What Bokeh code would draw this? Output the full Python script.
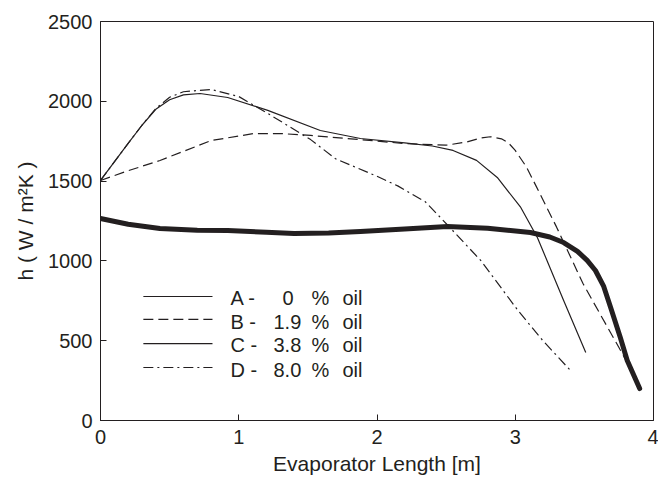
from bokeh.plotting import figure
from bokeh.models import Range1d, FixedTicker, Label
from bokeh.embed import file_html
from bokeh.resources import INLINE

# ---- data ----
xa = [0, 0.2, 0.43, 0.7, 0.92, 1.2, 1.40, 1.65, 1.88, 2.2, 2.51, 2.8, 3.11, 3.25, 3.35, 3.45, 3.52, 3.58, 3.64, 3.69, 3.76, 3.81, 3.90]
ya = [1266, 1230, 1203, 1192, 1190, 1180, 1172, 1175, 1184, 1200, 1216, 1205, 1178, 1150, 1115, 1060, 1003, 940, 840, 708, 520, 376, 200]

xb = [0, 0.2, 0.43, 0.8, 1.11, 1.3, 1.52, 1.88, 2.2, 2.5, 2.65, 2.75, 2.82, 2.9, 2.95, 3.0, 3.08, 3.15, 3.3, 3.49, 3.75, 3.85]
yb = [1504, 1565, 1629, 1754, 1798, 1798, 1786, 1760, 1735, 1725, 1745, 1770, 1778, 1765, 1740, 1692, 1590, 1470, 1210, 858, 457, 300]

xc = [0, 0.1, 0.2, 0.3, 0.4, 0.5, 0.6, 0.72, 0.92, 1.21, 1.59, 1.88, 2.2, 2.4, 2.55, 2.72, 2.87, 3.04, 3.16, 3.35, 3.51]
yc = [1504, 1620, 1736, 1850, 1950, 2010, 2040, 2049, 2024, 1943, 1817, 1767, 1740, 1720, 1692, 1630, 1523, 1335, 1147, 752, 426]

xd = [0, 0.1, 0.2, 0.3, 0.4, 0.5, 0.6, 0.8, 1.0, 1.21, 1.52, 1.7, 2.0, 2.15, 2.35, 2.51, 2.75, 3.02, 3.2, 3.40]
yd = [1504, 1620, 1736, 1850, 1955, 2025, 2060, 2074, 2030, 1924, 1760, 1640, 1530, 1470, 1370, 1225, 1003, 689, 500, 313]

legend_letters = ["A -", "B -", "C -", "D -"]
legend_numbers = ["0", "1.9", "3.8", "8.0"]

x_ticks = [0, 1, 2, 3, 4]
y_ticks = [0, 500, 1000, 1500, 2000, 2500]

FONT = "Liberation Sans"
INK = "#231f20"

p = figure(width=658, height=478, output_backend="svg", toolbar_location=None,
           x_range=Range1d(0, 4), y_range=Range1d(0, 2500),
           min_border_left=100, min_border_right=5, min_border_top=21, min_border_bottom=58)
p.xgrid.visible = False
p.ygrid.visible = False
p.outline_line_color = INK
p.outline_line_width = 1
p.background_fill_color = "white"
p.border_fill_color = "white"

for ax, ticks in ((p.xaxis[0], x_ticks), (p.yaxis[0], y_ticks)):
    ax.ticker = FixedTicker(ticks=ticks)
    ax.major_tick_in = 6
    ax.major_tick_out = 0
    ax.minor_tick_line_color = None
    ax.axis_line_color = INK
    ax.major_tick_line_color = INK
    ax.major_label_text_font = FONT
    ax.major_label_text_font_size = "20px"
    ax.major_label_text_color = INK
    ax.axis_label_text_font = FONT
    ax.axis_label_text_font_size = "21px"
    ax.axis_label_text_font_style = "normal"
    ax.axis_label_text_color = INK

p.xaxis.axis_label = "Evaporator Length [m]"
p.yaxis.axis_label = "h ( W / m\u00b2K )"
p.xaxis.major_label_standoff = 9
p.yaxis.major_label_standoff = 8
p.xaxis.axis_label_standoff = 5
p.yaxis.axis_label_standoff = 8

# curves
p.line(xa, ya, line_color=INK, line_width=5, line_join="round", line_cap="round")
p.line(xb, yb, line_color=INK, line_width=1.2, line_dash="10 5")
p.line(xc, yc, line_color=INK, line_width=1.2)
p.line(xd, yd, line_color=INK, line_width=1.2, line_dash="10 4 2 4")

# legend (drawn manually)
dashes = ["solid", "10 5", "solid", "10 4 2 4"]
line_ys = [777, 633, 482, 332]
text_ys = [765, 620, 470, 315]
num_x = [1.316, 1.251, 1.251, 1.251]
for i in range(4):
    p.line([0.31, 0.81], [line_ys[i], line_ys[i]], line_color=INK, line_width=1.2, line_dash=dashes[i])
    for txt, xx in ((legend_letters[i], 0.94), (legend_numbers[i], num_x[i]), ("%", 1.526), ("oil", 1.75)):
        p.add_layout(Label(x=xx, y=text_ys[i], text=txt, text_font=FONT, text_font_size="20px",
                           text_color=INK, text_baseline="middle", text_align="left"))

open("out.html", "w").write(file_html(p, INLINE))
